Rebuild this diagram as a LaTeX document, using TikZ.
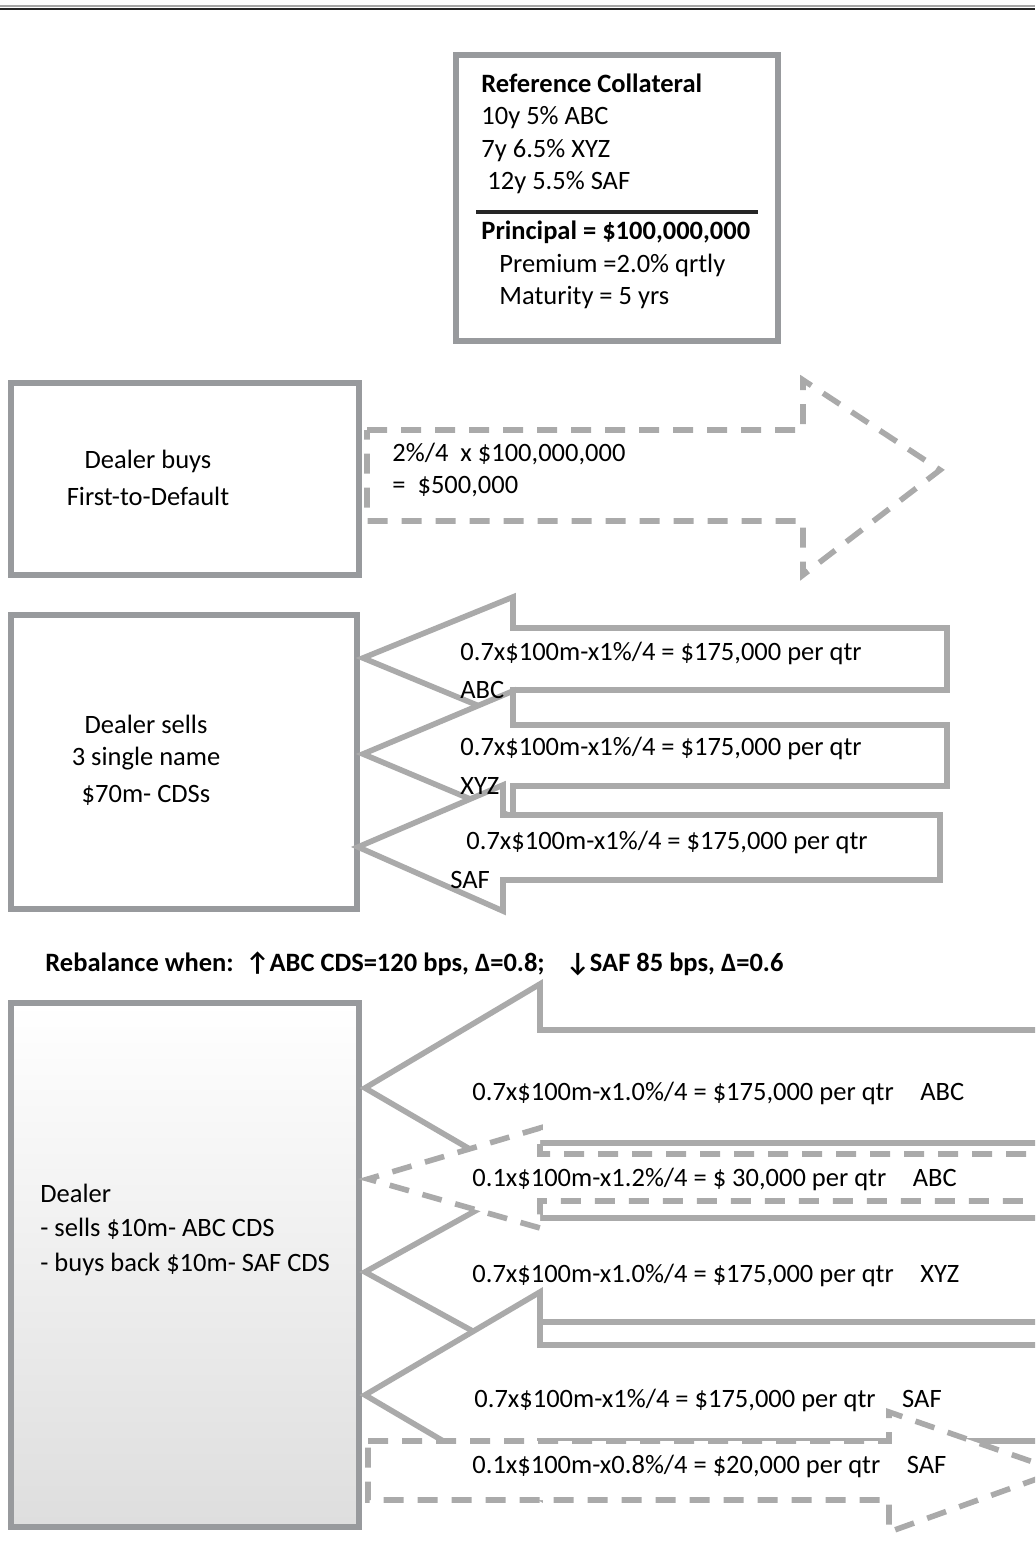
\documentclass[tikz,border=0pt]{standalone}
\usepackage{fontspec}
\setmainfont{Carlito}
\usetikzlibrary{positioning}
\definecolor{boxgray}{RGB}{152,154,157}
\definecolor{arrowgray}{RGB}{170,170,170}
\newcommand{\lblsize}{\fontsize{13.25}{16.2}\selectfont}
\tikzset{
  partybox/.style = {draw=boxgray, line width=3pt, inner sep=0pt},
  legarrow/.style = {draw=arrowgray, line width=2.8pt, fill=white, miter limit=4},
  feearrow/.style = {legarrow, dash pattern=on 10pt off 7pt},
  lbl/.style = {anchor=west, inner sep=0pt, font=\lblsize}
}
\begin{document}
\begin{tikzpicture}[x=0.5pt, y=-0.5pt]
  \useasboundingbox (0,0) rectangle (1035,1542);
  \clip (0,0) rectangle (1035,1542);
  \draw[black!35, line width=0.6pt] (0,6) -- (1035,6);
  \draw[black!85, line width=1pt] (0,9) -- (1035,9);

  \node[partybox, minimum width=161pt, minimum height=143pt] (coll) at (617,198) {};
  \node[lbl, align=left] (colltop) at (481,134) {\textbf{Reference Collateral}\\10y 5\% ABC\\7y 6.5\% XYZ\\\hspace*{3pt}12y 5.5\% SAF};
  \draw[black!85, line width=2.2pt] (476,212) -- (758,212);
  \node[lbl, align=left] (collbot) at (481,265) {\textbf{Principal = \$100,000,000}\\\hspace*{9pt}Premium =2.0\% qrtly\\\hspace*{9pt}Maturity = 5 yrs};

  \node[partybox, minimum width=174pt, minimum height=96pt] (buys) at (185,479) {};
  \node[font=\lblsize, align=center, inner sep=0pt] (buystxt) at (148,478) {Dealer buys\\[2.3pt]First-to-Default};
  \draw[feearrow, fill=none] (367,430) -- (803,430) -- (803,380) -- (940,470) -- (803,575) -- (803,521) -- (367,521) -- cycle;
  \node[lbl, align=left] (fee) at (392,470) {2\%/4~~x \$100,000,000\\=~~\$500,000};

  \node[partybox, minimum width=173pt, minimum height=147pt] (sells) at (184,762) {};
  \node[font=\lblsize, align=center, inner sep=0pt] (sellstxt) at (146,760) {Dealer sells\\3 single name\\[2pt]\$70m- CDSs};
  \draw[legarrow] (947,628) -- (513,628) -- (513,597) -- (363,658) -- (513,720) -- (513,690) -- (947,690) -- cycle;
  \draw[legarrow] (947,725) -- (513,725) -- (513,691) -- (363,754) -- (513,817) -- (513,786) -- (947,786) -- cycle;
  \draw[legarrow] (940,815) -- (503,815) -- (503,785) -- (358,847) -- (503,911) -- (503,880) -- (940,880) -- cycle;
  \node[lbl] (abcleg) at (460,653) {0.7x\$100m-x1\%/4 = \$175,000 per qtr};
  \node[lbl] (abcname) at (460,690) {ABC};
  \node[lbl] (xyzleg) at (460,748) {0.7x\$100m-x1\%/4 = \$175,000 per qtr};
  \node[lbl] (xyzname) at (460,786) {XYZ};
  \node[lbl] (safleg) at (466,842) {0.7x\$100m-x1\%/4 = \$175,000 per qtr};
  \node[lbl] (safname) at (450,880) {SAF};

  \node[lbl, font=\lblsize\bfseries] (rebal) at (45,964) {Rebalance when:~~↑ABC CDS=120 bps, Δ=0.8;\hspace{0.8em}↓SAF 85 bps, Δ=0.6};

  \node[partybox, minimum width=174pt, minimum height=262pt, top color=white, bottom color=black!13, draw=boxgray] (dealer) at (185,1265) {};
  \node[lbl, align=left] (dealertxt) at (40,1230) {Dealer\\[0.8pt]- sells \$10m- ABC CDS\\[1.5pt]- buys back \$10m- SAF CDS};
  \draw[legarrow] (1060,1030) -- (540,1030) -- (540,984) -- (365,1088) -- (540,1190) -- (540,1143) -- (1060,1143) -- cycle;
  \draw[legarrow] (1060,1218) -- (540,1218) -- (540,1175) -- (365,1272) -- (540,1368) -- (540,1322) -- (1060,1322) -- cycle;
  \draw[feearrow] (1060,1154) -- (540,1154) -- (540,1128) -- (368,1179) -- (540,1228) -- (540,1201) -- (1060,1201) -- cycle;
  \draw[legarrow] (1060,1345) -- (540,1345) -- (540,1292) -- (365,1395) -- (540,1498) -- (540,1441) -- (1060,1441) -- cycle;
  \draw[feearrow] (368,1441) -- (889,1441) -- (889,1412) -- (1059,1471) -- (889,1532) -- (889,1500) -- (368,1500) -- cycle;
  \node[lbl] (abcbig) at (472,1093) {0.7x\$100m-x1.0\%/4 = \$175,000 per qtr\quad ABC};
  \node[lbl] (abcadd) at (472,1179) {0.1x\$100m-x1.2\%/4 = \$ 30,000 per qtr\quad ABC};
  \node[lbl] (xyzbig) at (472,1275) {0.7x\$100m-x1.0\%/4 = \$175,000 per qtr\quad XYZ};
  \node[lbl] (safbig) at (474,1400) {0.7x\$100m-x1\%/4 = \$175,000 per qtr\quad SAF};
  \node[lbl] (safback) at (472,1466) {0.1x\$100m-x0.8\%/4 = \$20,000 per qtr\quad SAF};
\end{tikzpicture}
\end{document}
